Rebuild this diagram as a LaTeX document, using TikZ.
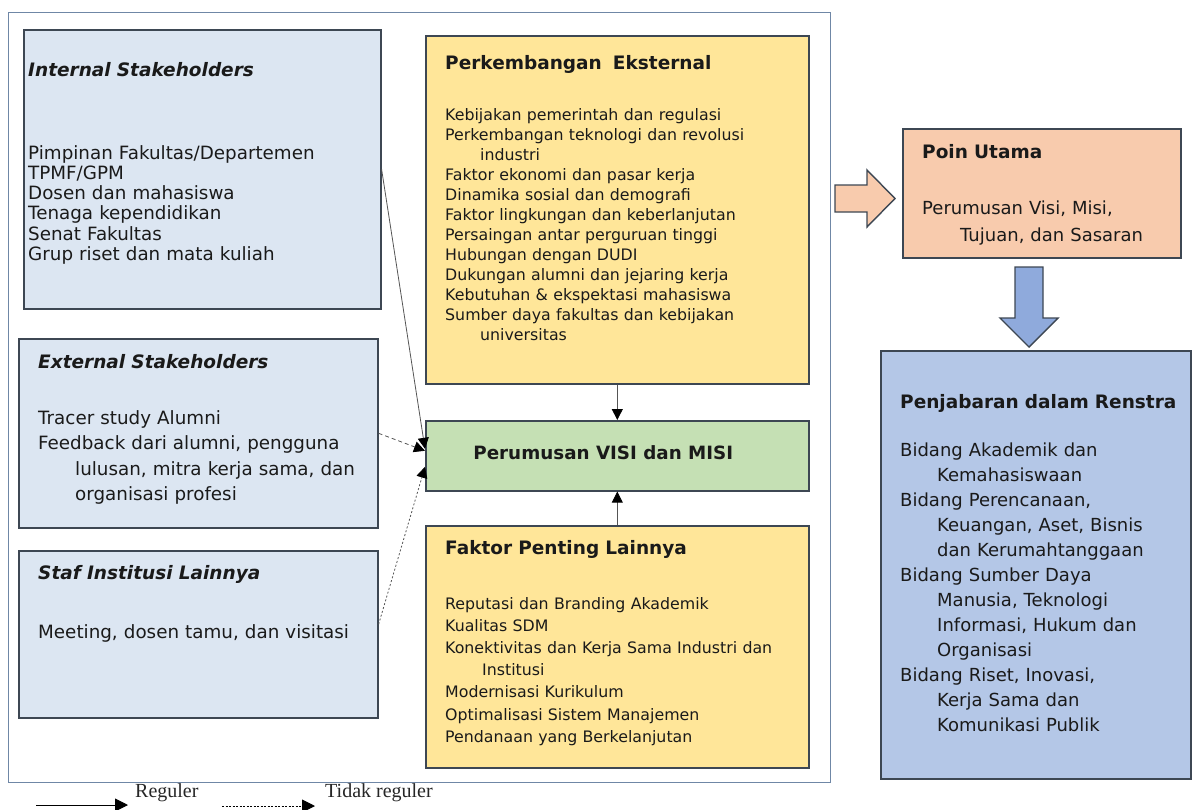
\documentclass[tikz,border=0pt]{standalone}
\usepackage{fontspec}
\setmainfont{DejaVu Sans}
\newfontfamily\legfont{Liberation Serif}
\usetikzlibrary{arrows.meta}
\definecolor{boxline}{HTML}{3D4753}
\definecolor{txtcol}{HTML}{1A1A1A}
\definecolor{bluefill}{HTML}{DCE6F2}
\definecolor{yellowfill}{HTML}{FFE699}
\definecolor{greenfill}{HTML}{C5E0B4}
\definecolor{peachfill}{HTML}{F8CBAD}
\definecolor{renfill}{HTML}{B4C7E7}
\definecolor{downfill}{HTML}{8FAADC}
\definecolor{framecol}{HTML}{6F87A6}
\definecolor{linecol}{HTML}{555555}
\newcommand\fsBlue{\fontsize{18.3}{20.3}\selectfont}
\newcommand\fsExt{\fontsize{18.3}{25.5}\selectfont}
\newcommand\fsPerk{\fontsize{15.8}{20}\selectfont}
\newcommand\fsFak{\fontsize{15.8}{22.2}\selectfont}
\newcommand\fsRight{\fontsize{18}{25}\selectfont}
\newcommand\fsPoin{\fontsize{18}{27}\selectfont}
\newcommand\fsTitle{\fontsize{18.5}{22}\selectfont\bfseries}
\begin{document}
\begin{tikzpicture}[x=1pt,y=-1pt,
  box/.style={draw=boxline, line width=1.6pt, inner sep=0pt, anchor=north west},
  txt/.style={anchor=base west, inner sep=0pt, align=left, text width=400pt, text=txtcol},
  ttl/.style={txt, font=\fsTitle},
  ittl/.style={txt, font=\fsTitle\itshape},
  link/.style={draw=linecol, line width=0.8pt, -{Triangle[length=11pt,width=11pt,color=black]}},
  dashlink/.style={link, dash pattern=on 4pt off 3pt},
  dotlink/.style={link, dash pattern=on 2pt off 2pt},
  blockarrow/.style={draw=boxline, line width=1.4pt, line join=miter},
  legline/.style={draw=black, line width=1pt, -{Triangle[length=13pt,width=13pt]}},
  legtxt/.style={anchor=base west, inner sep=0pt, font=\legfont\fontsize{20}{22}\selectfont, text=black!85}
]
\useasboundingbox (0,0) rectangle (1194,809);

% outer frame
\node[draw=framecol, line width=1.4pt, minimum width=822pt, minimum height=770pt, anchor=north west, inner sep=0pt] (frame) at (8,12) {};

% boxes
\node[box, fill=bluefill, minimum width=357pt, minimum height=279pt] (int) at (23,29) {};
\node[box, fill=bluefill, minimum width=359pt, minimum height=189pt] (ext) at (18,338) {};
\node[box, fill=bluefill, minimum width=359pt, minimum height=167pt] (stf) at (18,550) {};
\node[box, fill=yellowfill, minimum width=383pt, minimum height=348pt] (perk) at (425,35) {};
\node[box, fill=greenfill, minimum width=383pt, minimum height=70pt] (vm) at (425,420) {};
\node[box, fill=yellowfill, minimum width=383pt, minimum height=242pt] (fak) at (425,525) {};
\node[box, fill=peachfill, minimum width=278pt, minimum height=129pt] (poin) at (902,128) {};
\node[box, fill=renfill, minimum width=310pt, minimum height=428pt] (ren) at (880,350) {};

% texts
\node[ittl] (intT) at (28,76) {Internal Stakeholders};
\node[txt, font=\fsBlue] (intL) at (28,159) {Pimpinan Fakultas/Departemen\\TPMF/GPM\\Dosen dan mahasiswa\\Tenaga kependidikan\\Senat Fakultas\\Grup riset dan mata kuliah};

\node[ittl] (extT) at (38,368) {External Stakeholders};
\node[txt, font=\fsExt] (extL) at (38,424) {Tracer study Alumni\\Feedback dari alumni, pengguna\\\hspace*{37pt}lulusan, mitra kerja sama, dan\\\hspace*{37pt}organisasi profesi};

\node[ittl] (stfT) at (38,579) {Staf Institusi Lainnya};
\node[txt, font=\fsBlue] (stfL) at (38,638) {Meeting, dosen tamu, dan visitasi};

\node[ttl] (perkT) at (445,69) {Perkembangan\hspace{0.6em}Eksternal};
\node[txt, font=\fsPerk] (perkL) at (445,120) {Kebijakan pemerintah dan regulasi\\Perkembangan teknologi dan revolusi\\\hspace*{35pt}industri\\Faktor ekonomi dan pasar kerja\\Dinamika sosial dan demografi\\Faktor lingkungan dan keberlanjutan\\Persaingan antar perguruan tinggi\\Hubungan dengan DUDI\\Dukungan alumni dan jejaring kerja\\Kebutuhan \& ekspektasi mahasiswa\\Sumber daya fakultas dan kebijakan\\\hspace*{35pt}universitas};

\node[font=\fontsize{18.3}{22}\selectfont\bfseries, text=txtcol, inner sep=0pt] (vmT) at ([xshift=-14pt,yshift=3pt]vm.center) {Perumusan VISI dan MISI};

\node[ttl] (fakT) at (445,554) {Faktor Penting Lainnya};
\node[txt, font=\fsFak] (fakL) at (445,609) {Reputasi dan Branding Akademik\\Kualitas SDM\\Konektivitas dan Kerja Sama Industri dan\\\hspace*{37pt}Institusi\\Modernisasi Kurikulum\\Optimalisasi Sistem Manajemen\\Pendanaan yang Berkelanjutan};

\node[ttl] (poinT) at (922,158) {Poin Utama};
\node[txt, font=\fsPoin] (poinL) at (922,214) {Perumusan Visi, Misi,\\\hspace*{38pt}Tujuan, dan Sasaran};

\node[ttl] (renT) at (900,408) {Penjabaran dalam Renstra};
\node[txt, font=\fsRight] (renL) at (900,456) {Bidang Akademik dan\\\hspace*{37pt}Kemahasiswaan\\Bidang Perencanaan,\\\hspace*{37pt}Keuangan, Aset, Bisnis\\\hspace*{37pt}dan Kerumahtanggaan\\Bidang Sumber Daya\\\hspace*{37pt}Manusia, Teknologi\\\hspace*{37pt}Informasi, Hukum dan\\\hspace*{37pt}Organisasi\\Bidang Riset, Inovasi,\\\hspace*{37pt}Kerja Sama dan\\\hspace*{37pt}Komunikasi Publik};

% connectors
\draw[link] (int.east) -- ([yshift=7pt]vm.west);
\draw[dashlink] (ext.east) -- ([yshift=5pt]vm.west);
\draw[dotlink] ([yshift=10pt]stf.east) -- ([yshift=-11pt]vm.west);
\draw[link] (perk.south) -- (vm.north);
\draw[link] (fak.north) -- (vm.south);

% block arrows
\draw[blockarrow, fill=peachfill] (835,185) -- (867,185) -- (867,170) -- (895,198.5) -- (867,227) -- (867,212) -- (835,212) -- cycle;
\draw[blockarrow, fill=downfill] (1015,267) -- (1043,267) -- (1043,318) -- (1058,318) -- (1029,347) -- (1000,318) -- (1015,318) -- cycle;

% legend
\coordinate (l1a) at (36,805);
\coordinate (l1b) at (128,805);
\draw[legline] (l1a) -- (l1b);
\node[legtxt] (l1t) at (135,797) {Reguler};
\coordinate (l2a) at (222,806);
\coordinate (l2b) at (315,806);
\draw[legline, dash pattern=on 2pt off 1.5pt] (l2a) -- (l2b);
\node[legtxt] (l2t) at (325,797) {Tidak reguler};
\end{tikzpicture}
\end{document}
